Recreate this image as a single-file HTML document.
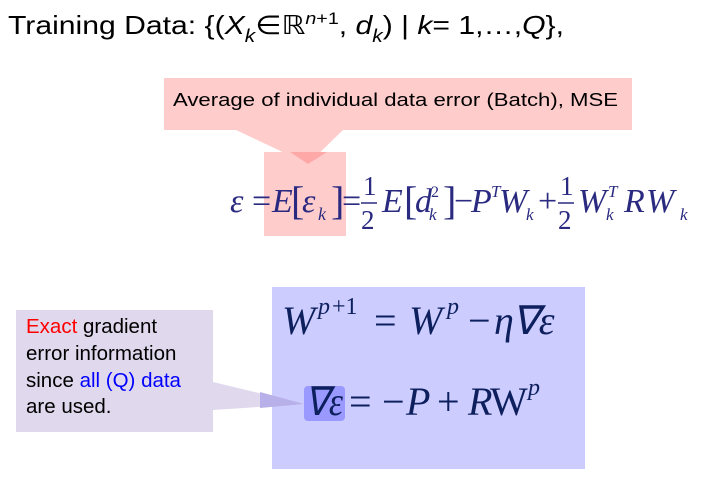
<!DOCTYPE html>
<html><head><meta charset="utf-8"><style>
html,body{margin:0;padding:0;background:#fff;width:724px;height:486px;overflow:hidden}
svg{display:block}
</style></head><body>
<svg width="724" height="486" viewBox="0 0 724 486">
  <text x="8" y="34" font-family="Liberation Sans, sans-serif" font-size="26" fill="#000" textLength="556" lengthAdjust="spacingAndGlyphs">Training Data: {(<tspan font-style="italic">X</tspan><tspan font-style="italic" font-size="18" dy="8">k</tspan><tspan dy="-8">∈ℝ</tspan><tspan font-style="italic" font-size="17" dy="-10">n</tspan><tspan font-size="17">+1</tspan><tspan dy="10">, </tspan><tspan font-style="italic">d</tspan><tspan font-style="italic" font-size="18" dy="8">k</tspan><tspan dy="-8">) | </tspan><tspan font-style="italic">k</tspan>= 1,…,<tspan font-style="italic">Q</tspan>},</text>

  <g>
    <rect x="164" y="78" width="468" height="52" fill="#ffcccc"/>
    <polygon points="236,130 343,130 308,164" fill="#ffcccc"/>
    <rect x="264" y="152" width="82" height="84" fill="#ffcccc"/>
    <polygon points="290,152 327,152 308,164" fill="#ffa8a8"/>
    <text x="173" y="106" font-family="Liberation Sans, sans-serif" font-size="18" fill="#000" textLength="445" lengthAdjust="spacingAndGlyphs">Average of individual data error (Batch), MSE</text>
  </g>

  <g font-family="Liberation Serif, serif" fill="#2a2a80" font-size="34">
    <text x="230" y="212" font-style="italic">ε</text>
    <text x="252" y="212">=</text>
    <text x="272" y="212" font-style="italic">E</text>
    <text x="291" y="214" font-size="40">[</text>
    <text x="302" y="212" font-style="italic">ε</text>
    <text x="318" y="220" font-style="italic" font-size="18">k</text>
    <text x="331" y="214" font-size="40">]</text>
    <text x="342" y="212">=</text>
    <text x="363" y="195" font-size="27">1</text>
    <line x1="361" y1="203" x2="377" y2="203" stroke="#2a2a80" stroke-width="1.5"/>
    <text x="361" y="229" font-size="27">2</text>
    <text x="382" y="212" font-style="italic">E</text>
    <text x="404" y="214" font-size="40">[</text>
    <text x="415" y="212" font-style="italic">d</text>
    <text x="431" y="197" font-size="16">2</text>
    <text x="429" y="220" font-style="italic" font-size="17">k</text>
    <text x="443" y="214" font-size="40">]</text>
    <text x="454" y="212">−</text>
    <text x="471" y="212" font-style="italic">P</text>
    <text x="491" y="197" font-style="italic" font-size="17">T</text>
    <text x="499" y="212" font-style="italic">W</text>
    <text x="526" y="220" font-style="italic" font-size="17">k</text>
    <text x="538" y="212">+</text>
    <text x="560" y="195" font-size="27">1</text>
    <line x1="558" y1="203" x2="574" y2="203" stroke="#2a2a80" stroke-width="1.5"/>
    <text x="558" y="229" font-size="27">2</text>
    <text x="578" y="212" font-style="italic">W</text>
    <text x="608" y="197" font-style="italic" font-size="17">T</text>
    <text x="606" y="220" font-style="italic" font-size="17">k</text>
    <text x="624" y="212" font-style="italic">R</text>
    <text x="646" y="212" font-style="italic">W</text>
    <text x="680" y="220" font-style="italic" font-size="17">k</text>
  </g>

  <rect x="272" y="287" width="313" height="182" fill="#ccccff"/>
  <g font-family="Liberation Serif, serif" fill="#0d1f5c" font-size="40">
    <text x="282" y="334" font-style="italic">W</text>
    <text x="318" y="314" font-style="italic" font-size="24">p</text>
    <text x="332" y="314" font-size="24">+1</text>
    <text x="374" y="334">=</text>
    <text x="409" y="334" font-style="italic">W</text>
    <text x="447" y="314" font-style="italic" font-size="24">p</text>
    <text x="468" y="334">−</text>
    <text x="494" y="334" font-style="italic">η</text>
    <text x="512" y="334" font-style="italic">∇ε</text>
  </g>

  <g>
    <rect x="16" y="310" width="197" height="122" fill="#e0d8ec"/>
    <polygon points="213,382 213,410 304,404" fill="#e0d8ec"/>
    <polygon points="260,392 260,408 304,404" fill="#b8b0e8"/>
    <g font-family="Liberation Sans, sans-serif" font-size="20.5" fill="#000">
      <text x="26" y="333"><tspan fill="#ff0000">Exact</tspan> gradient</text>
      <text x="26" y="360">error information</text>
      <text x="26" y="387">since <tspan fill="#0000ff">all (Q) data</tspan></text>
      <text x="26" y="413">are used.</text>
    </g>
  </g>

  <rect x="304" y="386" width="41" height="35" rx="4" fill="#9999ff"/>
  <g font-family="Liberation Serif, serif" fill="#0d1f5c" font-size="40">
    <text x="305" y="415" font-style="italic" textLength="38" lengthAdjust="spacingAndGlyphs">∇ε</text>
    <text x="349" y="415">=</text>
    <text x="382" y="415">−</text>
    <text x="406" y="415" font-style="italic">P</text>
    <text x="437" y="415">+</text>
    <text x="468" y="415" font-style="italic">R</text>
    <text x="490" y="415">W</text>
    <text x="528" y="395" font-style="italic" font-size="24">p</text>
  </g>
</svg>
</body></html>
